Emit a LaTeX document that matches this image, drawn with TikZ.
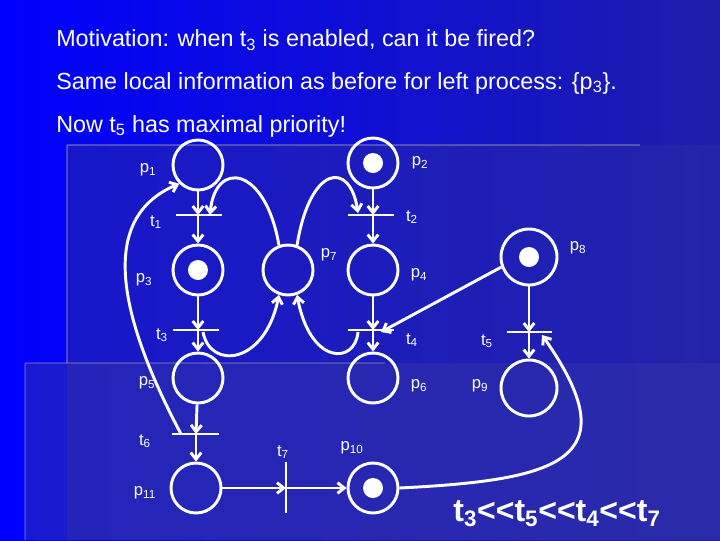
\documentclass[tikz,border=0pt]{standalone}
\usepackage{fontspec}
\setmainfont{Liberation Sans}
\usetikzlibrary{arrows.meta}
\definecolor{bgL}{RGB}{0,0,255}
\definecolor{bgR}{RGB}{30,30,170}
\definecolor{panA}{RGB}{40,40,170}
\definecolor{panB}{RGB}{50,50,170}
\begin{document}
\begin{tikzpicture}[x=0.75pt,y=-0.75pt,
  pl/.style={circle,draw=white,line width=2.2pt,minimum size=37.5pt,inner sep=0pt},
  plb/.style={pl,minimum size=42pt},
  tok/.style={circle,fill=white,inner sep=0pt,minimum size=15pt},
  bar/.style={draw=white,line width=2.2pt},
  arc/.style={draw=white,line width=2.2pt,-{Straight Barb[length=5pt,width=8pt]}},
  lab/.style={text=white,font=\fontsize{12.5}{14}\selectfont,inner sep=0pt},
  ttl/.style={text=white,font=\fontsize{17.5}{20}\selectfont,anchor=west,inner sep=0pt}]
\useasboundingbox (0,0) rectangle (720,540);
\shade[left color=bgL, right color=bgR] (0,0) rectangle (720,540);
\fill[panA,opacity=0.55] (67,145) rectangle (720,540);
\fill[panB,opacity=0.5] (25,363) rectangle (720,540);
\draw[gray!70,line width=2pt,opacity=0.4] (67,145) -- (640,145);
\draw[gray!70,line width=2pt,opacity=0.4] (67,145) -- (67,363);
\draw[gray!70,line width=2pt,opacity=0.3] (25,363) -- (385,363);
\draw[gray!70,line width=2pt,opacity=0.3] (25,363) -- (25,540);
% titles
\node[ttl] (h1) at (56,40) {Motivation: when t\textsubscript{3} is enabled, can it be fired?};
\node[ttl] (h2) at (56,83) {Same local information as before for left process: \{p\textsubscript{3}\}.};
\node[ttl] (h3) at (56,126) {Now t\textsubscript{5} has maximal priority!};
% places
\node[pl] (p1) at (198,165) {};
\node[pl] (p2) at (373,163) {}; \node[tok] (k2) at (373,163) {};
\node[pl] (p3) at (198,270) {}; \node[tok] (k3) at (198,270) {};
\node[pl] (p7) at (288,270) {};
\node[pl] (p4) at (373,270) {};
\node[plb] (p8) at (529,257) {}; \node[tok] (k8) at (529,257) {};
\node[pl] (p5) at (198,378) {};
\node[pl] (p6) at (373,378) {};
\node[plb] (p9) at (529,388) {};
\node[pl] (p11) at (196,488) {};
\node[pl] (p10) at (373,488) {}; \node[tok] (k10) at (373,488) {};
% transitions
\coordinate (t1) at (198,215); \draw[bar] (176,215) -- (222,215);
\coordinate (t2) at (373,215); \draw[bar] (348,215) -- (394,215);
\coordinate (t3) at (198,330); \draw[bar] (173,330) -- (219,330);
\coordinate (t4) at (373,330); \draw[bar] (348,330) -- (394,330);
\coordinate (t5) at (529,332); \draw[bar] (507,332) -- (552,332);
\coordinate (t6) at (196,434); \draw[bar] (172,434) -- (219,434);
\coordinate (t7) at (286,488); \draw[bar] (286,462) -- (286,513);
% straight arcs
\draw[arc] (p1) -- (t1); \draw[arc] (t1) -- (p3);
\draw[arc] (p2) -- (t2); \draw[arc] (t2) -- (p4);
\draw[arc] (p3) -- (t3); \draw[arc] (t3) -- (p5);
\draw[arc] (p4) -- (t4); \draw[arc] (t4) -- (p6);
\draw[arc] (p8) -- (t5); \draw[arc] (t5) -- (p9);
\draw[arc] (p5) -- (t6); \draw[arc] (t6) -- (p11);
\draw[arc] (p11) -- (t7); \draw[arc] (t7) -- (p10);
\coordinate (t4r) at (381,332);
\draw[arc] (p8.200) -- (t4r);
% curved arcs
\coordinate (t6l) at (181,434);
\draw[arc] (t6l) .. controls (110,300) and (105,215) .. (p1.225);
\coordinate (t1r) at (210,215);
\draw[arc] (p7.110) .. controls (265,165) and (215,160) .. (t1r);
\coordinate (t3r) at (203,332);
\draw[arc] (t3r) .. controls (210,370) and (265,365) .. (p7.250);
\coordinate (t2l) at (358,213);
\draw[arc] (p7.70) .. controls (310,165) and (350,160) .. (t2l);
\coordinate (t4l) at (358,332);
\draw[arc] (t4l) .. controls (355,365) and (310,365) .. (p7.290);
\coordinate (t5r) at (542,335);
\draw[arc] (p10.east) .. controls (560,480) and (630,460) .. (t5r);
% labels
\node[lab] (l1) at (148,170) {p\textsubscript{1}};
\node[lab] (l2) at (420,163) {p\textsubscript{2}};
\node[lab] (lt1) at (156,222) {t\textsubscript{1}};
\node[lab] (lt2) at (412,217) {t\textsubscript{2}};
\node[lab] (l3) at (144,280) {p\textsubscript{3}};
\node[lab] (l7) at (329,255) {p\textsubscript{7}};
\node[lab] (l4) at (419,275) {p\textsubscript{4}};
\node[lab] (l8) at (578,248) {p\textsubscript{8}};
\node[lab] (lt3) at (162,335) {t\textsubscript{3}};
\node[lab] (lt4) at (412,340) {t\textsubscript{4}};
\node[lab] (lt5) at (487,341) {t\textsubscript{5}};
\node[lab] (l5) at (147,383) {p\textsubscript{5}};
\node[lab] (l6) at (419,386) {p\textsubscript{6}};
\node[lab] (l9) at (480,386) {p\textsubscript{9}};
\node[lab] (lt6) at (145,441) {t\textsubscript{6}};
\node[lab] (lt7) at (283,452) {t\textsubscript{7}};
\node[lab] (l10) at (352,448) {p\textsubscript{10}};
\node[lab] (l11) at (145,493) {p\textsubscript{11}};
\node[text=white,font=\bfseries\fontsize{24}{28}\selectfont,inner sep=0pt] (pri) at (557,514) {t\textsubscript{3}{<}{<}t\textsubscript{5}{<}{<}t\textsubscript{4}{<}{<}t\textsubscript{7}};
\end{tikzpicture}
\end{document}
